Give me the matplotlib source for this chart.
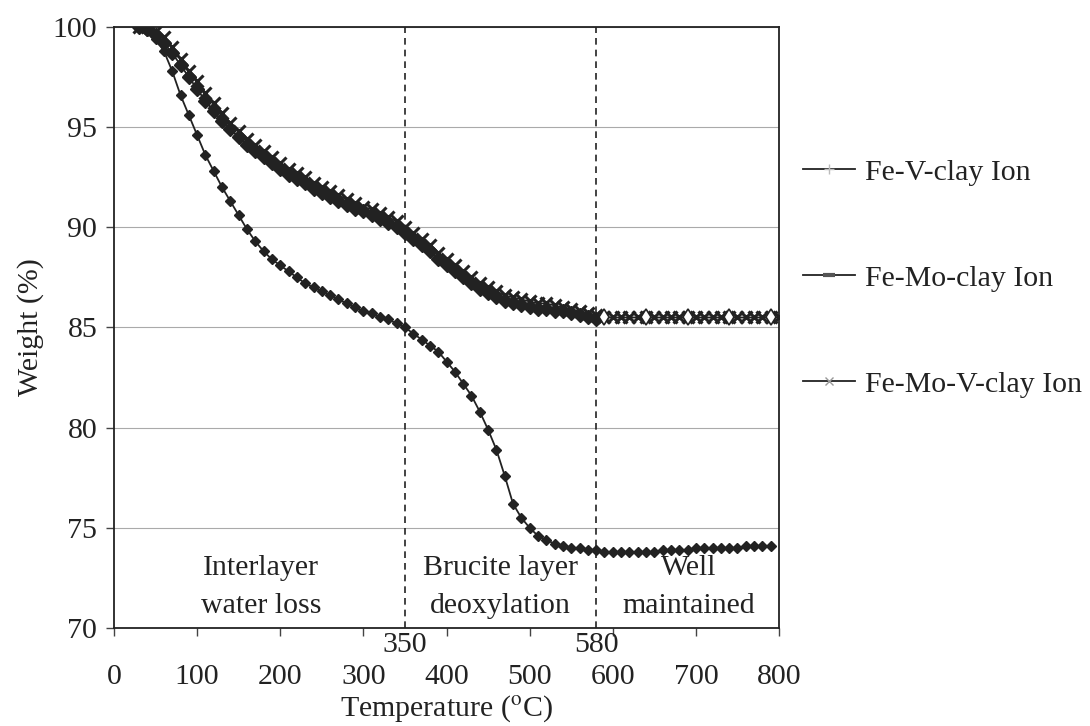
import numpy as np
import matplotlib.pyplot as plt
from matplotlib.lines import Line2D

plt.rcParams['font.family'] = ['Liberation Serif', 'DejaVu Serif']
plt.rcParams['mathtext.fontset'] = 'stix'

# temperatures (deg C), sampled every 10 degrees
temp_v = list(range(30, 800, 10))
temp_mo = list(range(30, 590, 10))
temp_mov = list(range(30, 810, 10))

# Fe-V-clay Ion (lower curve, weight %)
w_v = [100.0, 99.8, 99.4, 98.8, 97.8, 96.6, 95.6, 94.6, 93.6, 92.8,
       92.0, 91.3, 90.6, 89.9, 89.3, 88.8, 88.4, 88.1, 87.8, 87.5,
       87.2, 87.0, 86.8, 86.6, 86.4, 86.2, 86.0, 85.8, 85.7, 85.5,
       85.4, 85.2, 85.0, 84.7, 84.4, 84.1, 83.8, 83.3, 82.8, 82.2,
       81.6, 80.8, 79.9, 78.9, 77.6, 76.2, 75.5, 75.0, 74.6, 74.4,
       74.2, 74.1, 74.0, 74.0, 73.9, 73.9, 73.8, 73.8, 73.8, 73.8,
       73.8, 73.8, 73.8, 73.9, 73.9, 73.9, 73.9, 74.0, 74.0, 74.0,
       74.0, 74.0, 74.0, 74.1, 74.1, 74.1, 74.1]

# Fe-Mo-clay Ion
w_mo = [100.0, 99.9, 99.6, 99.2, 98.7, 98.1, 97.5, 96.9, 96.3, 95.8,
        95.3, 94.9, 94.5, 94.1, 93.8, 93.5, 93.2, 92.9, 92.6, 92.4,
        92.2, 91.9, 91.7, 91.5, 91.3, 91.1, 90.9, 90.8, 90.6, 90.4,
        90.2, 90.0, 89.7, 89.4, 89.1, 88.8, 88.4, 88.1, 87.8, 87.5,
        87.2, 86.9, 86.7, 86.5, 86.3, 86.2, 86.1, 86.0, 85.9, 85.9,
        85.8, 85.8, 85.7, 85.6, 85.5, 85.4]

# Fe-Mo-V-clay Ion
w_mov = [100.0, 100.0, 99.8, 99.5, 99.0, 98.4, 97.8, 97.3, 96.7, 96.2,
         95.7, 95.2, 94.8, 94.4, 94.1, 93.8, 93.5, 93.2, 92.9, 92.7,
         92.5, 92.2, 92.0, 91.8, 91.6, 91.4, 91.2, 91.0, 90.9, 90.7,
         90.5, 90.3, 90.0, 89.7, 89.4, 89.1, 88.7, 88.4, 88.1, 87.8,
         87.5, 87.2, 87.0, 86.8, 86.6, 86.5, 86.4, 86.3, 86.2, 86.2,
         86.1, 86.0, 85.9, 85.8, 85.7, 85.6, 85.5, 85.5, 85.5, 85.5,
         85.5, 85.5, 85.5, 85.5, 85.5, 85.5, 85.5, 85.5, 85.5, 85.5,
         85.5, 85.5, 85.5, 85.5, 85.5, 85.5, 85.5, 85.5]

boundaries = [350, 580]
regions = [(177, 'Interlayer\nwater loss'),
           (465, 'Brucite layer\ndeoxylation'),
           (691, 'Well\nmaintained')]

ink = '#222222'
fs = 21.5

fig = plt.figure(figsize=(10.9, 7.26), dpi=100)
ax = fig.add_axes([0.1046, 0.135, 0.6101, 0.8278])

ax.plot(temp_v, w_v, color=ink, lw=1.3, marker='D', ms=5.5, mfc=ink, mec=ink)
ax.plot(temp_mo, w_mo, color=ink, lw=1.3, marker='D', ms=7, mfc=ink, mec=ink)
ax.plot(temp_mov, w_mov, color=ink, lw=1.3, marker='x', ms=9, mew=2.2)
# open diamonds on the flat tail after 580
tail = slice(56, None)
ax.plot(temp_mov[tail], w_mov[tail], ls='none', marker='d', ms=8, mfc='white',
        mec=ink, mew=1.2, markevery=5)

for b in boundaries:
    ax.axvline(b, color=ink, ls=(0, (4, 3)), lw=1.2)

ax.set_xlim(0, 800)
ax.set_ylim(70, 100)
ax.set_xticks(range(0, 801, 100))
ax.set_yticks(range(70, 101, 5))
ax.yaxis.grid(True, color='#aaaaaa', lw=0.8)
ax.set_axisbelow(True)
for s in ax.spines.values():
    s.set_linewidth(1.3)
    s.set_color(ink)
ax.tick_params(axis='both', direction='out', length=6, width=1, colors='#444444',
               labelsize=fs, labelcolor=ink)
ax.tick_params(axis='x', pad=20)
ax.tick_params(axis='y', pad=6)

for b in boundaries:
    ax.text(b, -0.006, str(b), transform=ax.get_xaxis_transform(),
            ha='center', va='top', fontsize=fs, color=ink)

for xc, label in regions:
    ax.text(xc, 72.05, label, ha='center', va='center', fontsize=fs,
            color=ink, linespacing=1.62)

ax.set_xlabel(r'Temperature ($^{\mathrm{o}}$C)', fontsize=fs, color=ink, labelpad=2)
ax.set_ylabel('Weight (%)', fontsize=fs, color=ink, labelpad=6)

handles = [Line2D([], [], color=ink, lw=1.3, marker='+', ms=7, mec='#bbbbbb'),
           Line2D([], [], color=ink, lw=1.3, marker='_', ms=9, mew=3, mec='#555555'),
           Line2D([], [], color=ink, lw=1.3, marker='x', ms=6, mec='#999999')]
ax.legend(handles, ['Fe-V-clay Ion', 'Fe-Mo-clay Ion', 'Fe-Mo-V-clay Ion'],
          loc='center left', bbox_to_anchor=(1.036, 0.582), frameon=False,
          borderaxespad=0, borderpad=0,
          fontsize=fs, labelspacing=2.65, handlelength=1.75, handletextpad=0.33,
          labelcolor=ink)

fig.savefig('out.png', dpi=100)
